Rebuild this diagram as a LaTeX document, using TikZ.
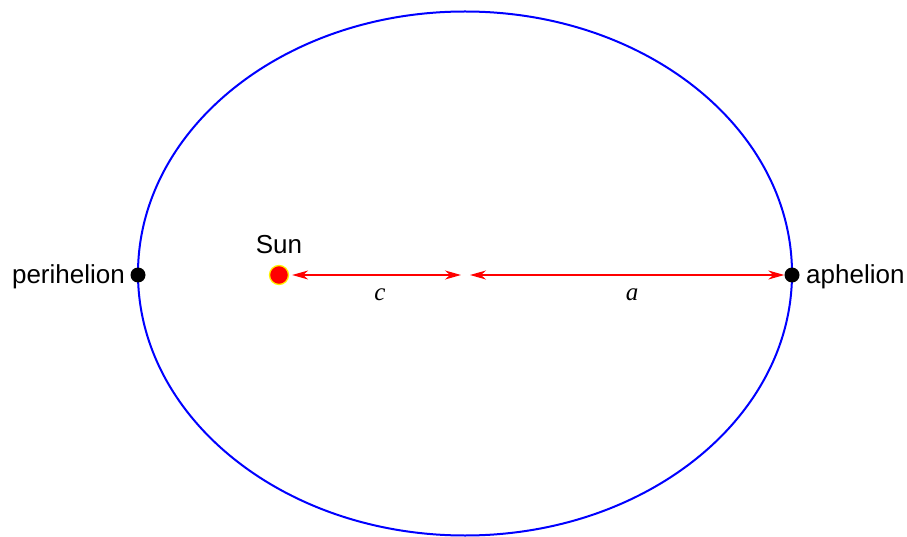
\documentclass[tikz,border=0pt]{standalone}
\usepackage{fontspec}
\setmainfont{Liberation Sans}
\newfontfamily\serifit{Liberation Serif}
\usetikzlibrary{arrows.meta}
\begin{document}
\begin{tikzpicture}[x=1pt,y=-1pt,
  lbl/.style={font=\fontsize{26}{30}\selectfont, inner sep=0pt},
  mlbl/.style={font=\fontsize{25}{30}\selectfont\serifit\itshape, inner sep=0pt},
  dotpt/.style={circle, fill=black, minimum size=15pt, inner sep=0pt},
  sunpt/.style={circle, fill=red, draw=yellow, line width=1.3pt, minimum size=19pt, inner sep=0pt},
  dist/.style={red, line width=1.3pt, {Stealth[length=16pt,width=9pt,inset=5pt]}-{Stealth[length=16pt,width=9pt,inset=5pt]}}
]
\useasboundingbox (0,0) rectangle (907,537);
\draw[blue, line width=2pt] (465,273.5) ellipse [x radius=327, y radius=262];
\node[dotpt] (peri) at (138,275) {};
\node[dotpt] (aph) at (792,275) {};
\node[sunpt] (sun) at (279,275) {};
\coordinate (cl) at (461,275);
\coordinate (cr) at (470,275);
\node[lbl, anchor=east] (perit) at (125,277) {perihelion};
\node[lbl, anchor=west] (apht) at (806,277) {aphelion};
\node[lbl] (sunt) at (279,245) {Sun};
\draw[dist] ([xshift=3pt]sun.east) -- (cl);
\draw[dist] (cr) -- (aph.west);
\node[mlbl] (clbl) at (380,295) {c};
\node[mlbl] (albl) at (632,295) {a};
\end{tikzpicture}
\end{document}
